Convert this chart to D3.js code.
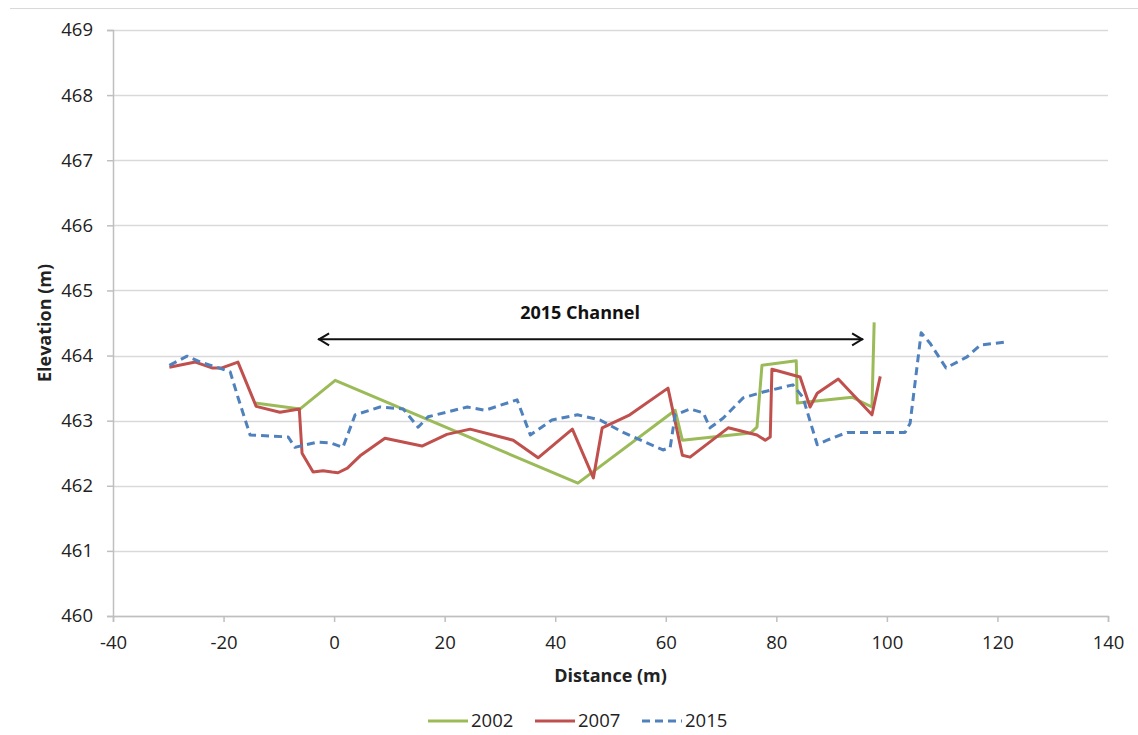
<!DOCTYPE html>
<html><head><meta charset="utf-8">
<script src="https://cdn.jsdelivr.net/npm/d3@7"></script>
<style>body{margin:0;background:#fff;} text{font-family:"Open Sans",Calibri,sans-serif;}</style>
</head><body><svg id="c" width="1138" height="735"></svg>
<script>
const x2002 = [-14.3,-6.15,0.2,44.1,61.7,63.0,75.3,76.5,77.4,83.6,83.8,93.7,97.3,97.7];
const y2002 = [463.27,463.18,463.62,462.04,463.16,462.70,462.81,462.90,463.85,463.92,463.27,463.36,463.21,464.51];
const x2007 = [-29.8,-25.1,-22.1,-20.3,-17.4,-14.1,-9.8,-6.3,-5.8,-3.8,-2.0,-0.4,0.7,2.4,4.7,9.2,15.9,20.4,24.6,32.4,36.9,43.1,46.9,48.5,53.5,60.4,63.0,64.4,71.3,76.5,78.0,78.9,79.2,84.3,86.1,87.4,91.2,97.3,98.8];
const y2007 = [463.82,463.90,463.81,463.81,463.90,463.22,463.13,463.18,462.50,462.21,462.23,462.21,462.20,462.27,462.46,462.73,462.61,462.79,462.87,462.70,462.43,462.87,462.12,462.89,463.09,463.50,462.47,462.44,462.89,462.78,462.70,462.75,463.79,463.67,463.21,463.42,463.64,463.09,463.68];
const x2015 = [-29.8,-26.6,-24.2,-21.2,-18.8,-17.4,-15.2,-8.3,-7.1,-3.1,-0.7,1.6,3.8,8.3,12.5,15.2,17.0,24.1,27.3,33.1,35.5,39.4,44.0,48.1,52.3,59.5,60.8,61.7,64.4,66.8,68.0,70.4,74.0,77.6,83.0,84.8,87.4,89.2,92.8,103.3,104.2,106.2,107.8,110.7,114.5,116.9,121.7];
const y2015 = [463.85,463.99,463.90,463.82,463.75,463.36,462.78,462.75,462.59,462.67,462.66,462.59,463.09,463.21,463.18,462.90,463.06,463.21,463.16,463.32,462.78,463.01,463.09,463.01,462.82,462.55,462.59,463.09,463.18,463.12,462.89,463.04,463.35,463.44,463.55,463.36,462.63,462.70,462.82,462.82,462.96,464.35,464.19,463.81,463.98,464.16,464.21];
const seriesNames = ["2002","2007","2015"];
const xTicks = [-40,-20,0,20,40,60,80,100,120,140];
const yTicks = [460,461,462,463,464,465,466,467,468,469];
const arrowX = [-2.9, 95.7];
const arrowY = 464.25;
const arrowLabel = "2015 Channel";
const labelPos = [44.5, 464.65];

const svg = d3.select("#c");
const L=113,R=1108,T=30,B=616;
const x = d3.scaleLinear().domain([-40,140]).range([L,R]);
const y = d3.scaleLinear().domain([460,469]).range([B,T]);
const colors = {"2002":"#9BBB59","2007":"#C0504D","2015":"#4F81BD"};

// top border
svg.append("line").attr("x1",10).attr("x2",1138).attr("y1",8.5).attr("y2",8.5).attr("stroke","#d9d9d9").attr("stroke-width",1);

// gridlines
svg.append("g").selectAll("line").data(yTicks).join("line")
  .attr("x1",L).attr("x2",R).attr("y1",d=>Math.round(y(d))+0.5).attr("y2",d=>Math.round(y(d))+0.5)
  .attr("stroke","#d9d9d9").attr("stroke-width",1.5);

// y axis
const yAx = svg.append("g").attr("transform",`translate(${L},0)`).call(d3.axisLeft(y).tickValues(yTicks).tickSize(6).tickPadding(14).tickFormat(d=>String(d)));
yAx.select(".domain").attr("stroke","#bfbfbf").attr("stroke-width",1.5);
yAx.selectAll(".tick line").attr("stroke","#bfbfbf").attr("stroke-width",1.5);
yAx.selectAll("text").attr("font-size",18.5).attr("fill","#222").style("font-family","'Open Sans'");

// x axis
const xAx = svg.append("g").attr("transform",`translate(0,${B})`).call(d3.axisBottom(x).tickValues(xTicks).tickSize(6).tickPadding(14).tickFormat(d=>String(d)));
xAx.select(".domain").attr("stroke","#bfbfbf").attr("stroke-width",1.5);
xAx.selectAll(".tick line").attr("stroke","#bfbfbf").attr("stroke-width",1.5);
xAx.selectAll("text").attr("font-size",18.5).attr("fill","#222").style("font-family","'Open Sans'");

// axis titles
svg.append("text").attr("x",(L+R)/2).attr("y",682).attr("text-anchor","middle").attr("font-size",18).attr("font-weight","bold").attr("fill","#222").text("Distance (m)");
svg.append("text").attr("transform",`translate(51,${(T+B)/2}) rotate(-90)`).attr("text-anchor","middle").attr("font-size",18).attr("font-weight","bold").attr("fill","#222").text("Elevation (m)");

// lines
const data = {"2002":d3.zip(x2002,y2002),"2007":d3.zip(x2007,y2007),"2015":d3.zip(x2015,y2015)};
const line = d3.line().x(d=>x(d[0])).y(d=>y(d[1]));
seriesNames.forEach(n=>{
  svg.append("path").attr("d",line(data[n])).attr("fill","none").attr("stroke",colors[n]).attr("stroke-width",3)
    .attr("stroke-linejoin","round").attr("stroke-dasharray",n==="2015"?"8,5":null);
});

// arrow
const ax1=x(arrowX[0]), ax2=x(arrowX[1]), ay=y(arrowY);
svg.append("line").attr("x1",ax1).attr("x2",ax2).attr("y1",ay).attr("y2",ay).attr("stroke","#111").attr("stroke-width",2);
svg.append("path").attr("d",`M${ax1+11},${ay-6} L${ax1+1},${ay} L${ax1+11},${ay+6}`).attr("fill","none").attr("stroke","#111").attr("stroke-width",2);
svg.append("path").attr("d",`M${ax2-11},${ay-6} L${ax2-1},${ay} L${ax2-11},${ay+6}`).attr("fill","none").attr("stroke","#111").attr("stroke-width",2);
svg.append("text").attr("x",x(labelPos[0])).attr("y",y(labelPos[1])+6).attr("text-anchor","middle").attr("font-size",18).attr("font-weight","bold").attr("fill","#111").text(arrowLabel);

// legend
const legX=[428,535,642];
seriesNames.forEach((n,i)=>{
  svg.append("line").attr("x1",legX[i]).attr("x2",legX[i]+40).attr("y1",721).attr("y2",721).attr("stroke",colors[n]).attr("stroke-width",3).attr("stroke-dasharray",n==="2015"?"8,5":null);
  svg.append("text").attr("x",legX[i]+43).attr("y",727).attr("font-size",18.5).attr("fill","#222").text(n);
});
</script></body></html>
